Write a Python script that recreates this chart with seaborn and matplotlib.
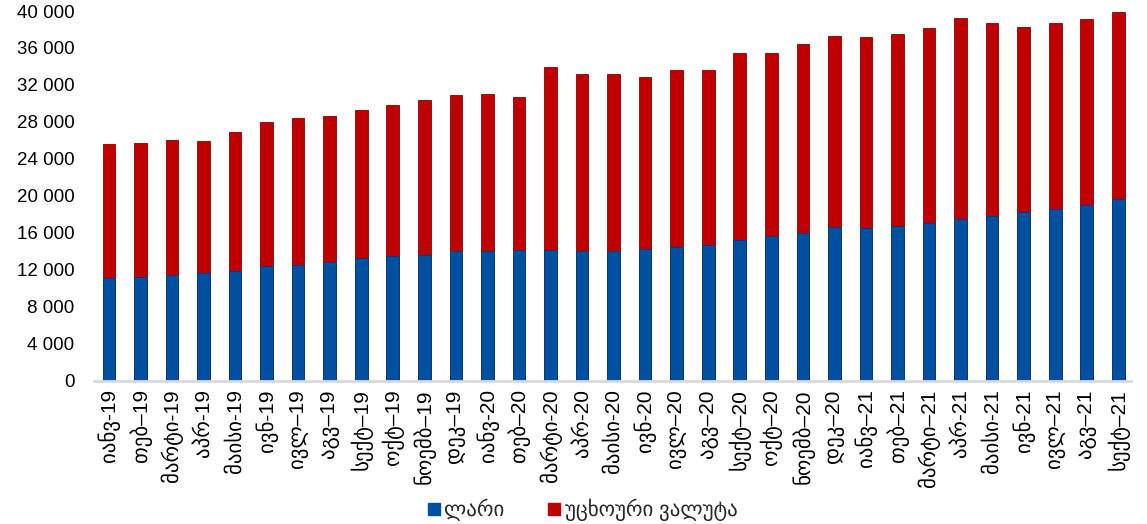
import matplotlib
matplotlib.use("Agg")
import matplotlib.pyplot as plt
import seaborn as sns
import pandas as pd
import numpy as np
from matplotlib.ticker import FuncFormatter, MultipleLocator
from matplotlib.lines import Line2D

months = ["იანვ-19", "თებ–19", "მარტი-19", "აპრ-19", "მაისი-19", "ივნ-19", "ივლ–19", "აგვ–19",
          "სექტ–19", "ოქტ–19", "ნოემბ–19", "დეკ–19", "იანვ-20", "თებ–20", "მარტი-20", "აპრ-20",
          "მაისი-20", "ივნ-20", "ივლ–20", "აგვ–20", "სექტ–20", "ოქტ–20", "ნოემბ–20", "დეკ–20",
          "იანვ–21", "თებ–21", "მარტი–21", "აპრ-21", "მაისი-21", "ივნ-21", "ივლ–21", "აგვ–21", "სექტ–21"]

lari = [11130, 11240, 11490, 11670, 11920, 12390, 12500, 12820, 13300, 13480, 13660, 14020,
        14020, 14130, 14200, 14020, 14020, 14280, 14490, 14670, 15250, 15640, 16010, 16620,
        16550, 16730, 17090, 17520, 17810, 18240, 18640, 19000, 19620]

total = [25580, 25690, 26050, 25940, 26880, 28000, 28470, 28650, 29270, 29810, 30390, 30930,
         31000, 30710, 33900, 33140, 33200, 32850, 33600, 33600, 35450, 35410, 36390, 37250,
         37140, 37510, 38120, 39200, 38660, 38230, 38660, 39130, 39850]

foreign = [t - l for t, l in zip(total, lari)]

series_names = ["ლარი", "უცხოური ვალუტა"]
BLUE = "#0050A2"
RED = "#C00000"

df = pd.DataFrame({"month": months, "lari": lari, "foreign": foreign})
df["total"] = df["lari"] + df["foreign"]

sns.set_theme(style="white")
plt.rcParams["font.family"] = ["Liberation Sans", "DejaVu Sans"]

fig = plt.figure(figsize=(11.47, 5.24), dpi=100)
ax = fig.add_axes([0.082, 0.273, 0.904, 0.706])

sns.barplot(data=df, x="month", y="total", color=RED, width=0.40, ax=ax,
            edgecolor="#8C0000", linewidth=0.6, saturation=1)
sns.barplot(data=df, x="month", y="lari", color=BLUE, width=0.40, ax=ax,
            edgecolor="#003A78", linewidth=0.6, saturation=1)

ax.set_ylim(0, 40000)
ax.set_xlim(-0.47, 32.4)
ax.yaxis.set_major_locator(MultipleLocator(4000))
ax.yaxis.set_major_formatter(FuncFormatter(lambda v, p: f"{int(v):,}".replace(",", " ")))
ax.set_xlabel("")
ax.set_ylabel("")
ax.tick_params(axis="y", length=0, labelsize=13.5, pad=14, labelcolor="black")
ax.tick_params(axis="x", length=0, labelsize=15, pad=6, labelcolor="black")
plt.setp(ax.get_xticklabels(), rotation=90, family=["Liberation Sans", "DejaVu Sans"])

for s in ["top", "right", "left"]:
    ax.spines[s].set_visible(False)
ax.spines["bottom"].set_color("#D9D9D9")
ax.spines["bottom"].set_linewidth(2)
ax.grid(False)

handles = [Line2D([0], [0], marker="s", linestyle="", markersize=9,
                  markerfacecolor=c, markeredgecolor=c) for c in (BLUE, RED)]
fig.legend(handles, series_names, loc="center", bbox_to_anchor=(0.506, 0.027), ncol=2,
           frameon=False, fontsize=15, handletextpad=0.0, columnspacing=1.9,
           handlelength=1.0)

fig.savefig("out.png", dpi=100)
